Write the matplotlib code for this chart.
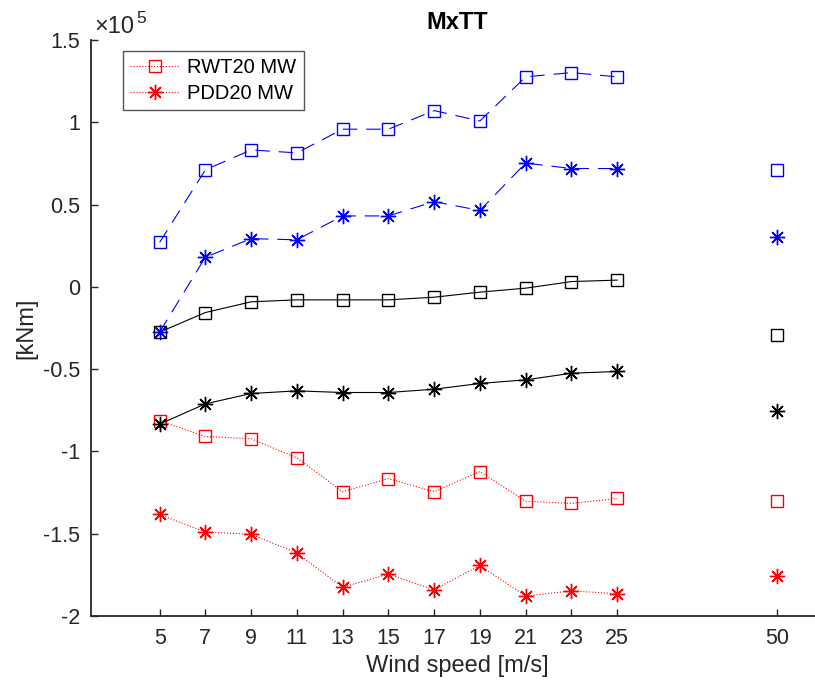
import numpy as np
import matplotlib
matplotlib.use('Agg')
import matplotlib.pyplot as plt
from matplotlib.ticker import FuncFormatter

plt.rcParams['font.family'] = ['Liberation Sans', 'DejaVu Sans']

# wind speeds (normal operation) and the extra 50 m/s case
ws = [5, 7, 9, 11, 13, 15, 17, 19, 21, 23, 25]
ws_extra = 50
x_extra = 32  # where the 50 m/s point sits on the axis

# values in 1e5 kNm
max_rwt = [0.27, 0.711, 0.832, 0.814, 0.958, 0.958, 1.071, 1.008, 1.276, 1.302, 1.276]
max_pdd = [-0.275, 0.18, 0.293, 0.286, 0.431, 0.431, 0.518, 0.464, 0.752, 0.719, 0.719]
mean_rwt = [-0.275, -0.156, -0.091, -0.079, -0.079, -0.079, -0.063, -0.032, -0.008, 0.032, 0.041]
mean_pdd = [-0.834, -0.711, -0.648, -0.632, -0.642, -0.642, -0.622, -0.587, -0.565, -0.525, -0.514]
min_rwt = [-0.814, -0.909, -0.923, -1.039, -1.245, -1.165, -1.245, -1.122, -1.302, -1.316, -1.286]
min_pdd = [-1.383, -1.49, -1.503, -1.618, -1.825, -1.745, -1.841, -1.693, -1.879, -1.847, -1.865]

# 50 m/s values
ext_max_rwt, ext_max_pdd = 0.711, 0.302
ext_mean_rwt, ext_mean_pdd = -0.294, -0.757
ext_min_rwt, ext_min_pdd = -1.302, -1.758

scale = 1e5
star = (8, 2, 0)
dark = '#262626'

fig = plt.figure(figsize=(8.15, 6.86), dpi=100)
ax = fig.add_axes([91/815, 70/686, 732/815, 576/686])

def s(v):
    return np.array(v) * scale

ms_sq = 8
ms_st = 11
lw = 0.8
dash = (0, (13, 8))

# min (red, dotted)
ax.plot(ws, s(min_rwt), color='r', ls=':', lw=lw, marker='s', mfc='none', ms=ms_sq, mew=1, label='RWT20 MW')
ax.plot(ws, s(min_pdd), color='r', ls=':', lw=lw, marker=star, ms=ms_st, mew=1, label='PDD20 MW')
ax.plot(x_extra, ext_min_rwt*scale, color='r', marker='s', mfc='none', ms=ms_sq, mew=1, ls='none')
ax.plot(x_extra, ext_min_pdd*scale, color='r', marker=star, ms=ms_st, mew=1, ls='none')

# mean (black, solid)
ax.plot(ws, s(mean_rwt), color='k', ls='-', lw=lw, marker='s', mfc='none', ms=ms_sq, mew=1)
ax.plot(ws, s(mean_pdd), color='k', ls='-', lw=lw, marker=star, ms=ms_st, mew=1)
ax.plot(x_extra, ext_mean_rwt*scale, color='k', marker='s', mfc='none', ms=ms_sq, mew=1, ls='none')
ax.plot(x_extra, ext_mean_pdd*scale, color='k', marker=star, ms=ms_st, mew=1, ls='none')

# max (blue, dashed)
ax.plot(ws, s(max_rwt), color='b', ls=dash, lw=lw, marker='s', mfc='none', ms=ms_sq, mew=1)
ax.plot(ws, s(max_pdd), color='b', ls=dash, lw=lw, marker=star, ms=ms_st, mew=1)
ax.plot(x_extra, ext_max_rwt*scale, color='b', marker='s', mfc='none', ms=ms_sq, mew=1, ls='none')
ax.plot(x_extra, ext_max_pdd*scale, color='b', marker=star, ms=ms_st, mew=1, ls='none')

ax.set_xlim(2, 34)
ax.set_ylim(-2e5, 1.5e5)
ax.set_xticks(ws + [x_extra])
ax.set_xticklabels([str(w) for w in ws] + [str(ws_extra)])
ax.set_yticks(np.arange(-2, 1.51, 0.5) * scale)
ax.yaxis.set_major_formatter(FuncFormatter(lambda v, p: '%g' % (v / scale)))

for sp in ['top', 'right']:
    ax.spines[sp].set_visible(False)
for sp in ['left', 'bottom']:
    ax.spines[sp].set_color(dark)
    ax.spines[sp].set_linewidth(1.3)
ax.tick_params(direction='in', length=5, width=1, colors=dark, labelsize=15.5)
ax.tick_params(axis='x', pad=9)
ax.tick_params(axis='y', pad=8)

# exponent label, MATLAB style
ax.text(0.005, 1.012, '\u00d710', transform=ax.transAxes, fontsize=17,
        color=dark, ha='left', va='baseline')
ax.text(0.0615, 1.029, '5', transform=ax.transAxes, fontsize=12.5,
        color=dark, ha='left', va='baseline')

ax.set_title('MxTT', fontsize=17, fontweight='bold', pad=8)
ax.set_xlabel('Wind speed [m/s]', fontsize=17, color=dark, labelpad=4)
ax.set_ylabel('[kNm]', fontsize=17, color=dark, labelpad=4)

leg = ax.legend(loc='upper left', bbox_to_anchor=(0.0437, 0.981), fontsize=14.5,
                fancybox=False, edgecolor='#555555', framealpha=1, borderaxespad=0,
                handlelength=2.5, handletextpad=0.35, borderpad=0.35, labelspacing=0.35)
leg.get_frame().set_linewidth(1)

fig.savefig('out.png', dpi=100)
